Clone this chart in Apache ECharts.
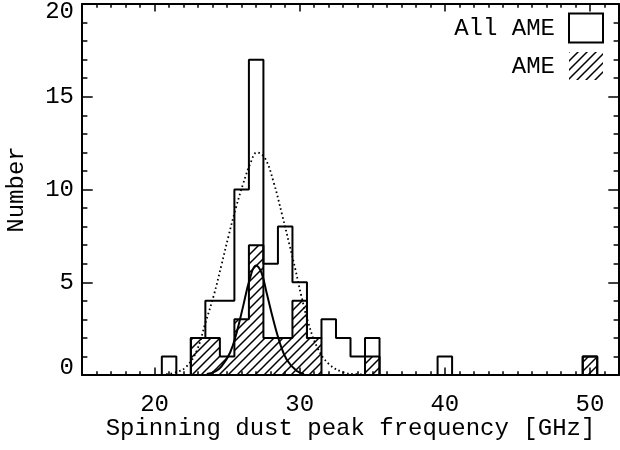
<!DOCTYPE html>
<html>
<head>
<meta charset="utf-8">
<script src="https://cdn.jsdelivr.net/npm/echarts@6/dist/echarts.min.js"></script>
<style>html,body{margin:0;padding:0;background:#fff}#c{width:620px;height:450px}</style>
</head>
<body>
<div id="c"></div>
<script>
// ---- data ----
const binCenters = [21,22,23,24,25,26,27,28,29,30,31,32,33,34,35,36,37,38,39,40,41,42,43,44,45,46,47,48,49,50];
const allAME     = [1, 0, 2, 4, 4, 10,17,6, 8, 5, 2, 3, 2, 1, 2, 0, 0, 0, 0, 1, 0, 0, 0, 0, 0, 0, 0, 0, 0, 1];
const ameCounts  = [0, 0, 2, 2, 1, 3, 7, 2, 2, 4, 2, 0, 0, 0, 1, 0, 0, 0, 0, 0, 0, 0, 0, 0, 0, 0, 0, 0, 0, 1];
const seriesNames = ['All AME', 'AME'];
// fitted curves, points
const fitAllX = [20.8,21.5,22.2,22.9,23.5,24.1,24.6,25.1,25.6,26.1,26.6,27.05,27.6,28.2,28.8,29.3,29.7,30.1,30.6,31.2,32.0,33.0,34.0,35.0];
const fitAllY = [0.05,0.15,0.45,1.3,2.8,4.35,5.9,7.5,9.0,10.3,11.4,12.0,11.7,10.4,8.6,7.0,5.7,4.3,2.8,1.5,0.6,0.15,0.04,0.01];
const fitAmeX = [23.6,24.2,24.6,25.2,25.65,26.1,26.55,26.98,27.37,27.72,28.17,28.63,29.1,29.8,30.3];
const fitAmeY = [0.05,0.2,0.45,1.2,2.27,3.7,5.15,5.9,5.5,4.43,3.0,1.74,0.84,0.21,0.05];
const xMajorTicks = [20,30,40,50];
const yMajorTicks = [0,5,10,15,20];
const xTitle = 'Spinning dust peak frequency [GHz]';
const yTitle = 'Number';

// ---- helpers ----
function stepPoints(centers, counts){
  const pts = [[centers[0]-0.5, 0]];
  centers.forEach((c,i)=>{ pts.push([c-0.5, counts[i]]); pts.push([c+0.5, counts[i]]); });
  pts.push([centers[centers.length-1]+0.5, 0]);
  return pts;
}
function zip(xs, ys){ return xs.map((x,i)=>[x, ys[i]]); }
function hatchCanvas(){
  const s = 9;
  const c = document.createElement('canvas'); c.width = s; c.height = s;
  const g = c.getContext('2d');
  g.strokeStyle = '#000'; g.lineWidth = 1.5;
  g.beginPath();
  g.moveTo(-1, s+1); g.lineTo(s+1, -1);
  g.moveTo(-1, 1); g.lineTo(1, -1);
  g.moveTo(s-1, s+1); g.lineTo(s+1, s-1);
  g.stroke();
  return c;
}
const hatch = {image: hatchCanvas(), repeat: 'repeat'};

const FONT = 'Liberation Mono';
const FS = 24;
const xMin = 15, xMax = 52;

const chart = echarts.init(document.getElementById('c'), null, {renderer:'canvas'});
const axisLine = {show:true, lineStyle:{color:'#000', width:2}};
const noLine = {show:false};

const option = {
  animation: false,
  backgroundColor: '#fff',
  grid: {left: 82, right: 1, top: 4, bottom: 75, containLabel: false, outerBoundsMode: 'none'},
  xAxis: [
    { // bottom minor ticks + axis line + title
      type:'value', position:'bottom', min:xMin, max:xMax, interval:1,
      axisLine: axisLine,
      axisTick: {show:true, inside:true, length:3.7, lineStyle:{color:'#000', width:1.5}},
      axisLabel: {show:false}, splitLine:{show:false},
      name: xTitle, nameLocation:'middle', nameGap: 42,
      nameTextStyle: {fontFamily: FONT, fontSize: FS, color:'#000'}
    },
    { // bottom major ticks + labels
      type:'value', position:'bottom', min:xMin, max:xMax,
      axisLine: noLine,
      axisTick: {show:true, inside:true, length:7.5, customValues: xMajorTicks, lineStyle:{color:'#000', width:1.5}},
      axisLabel: {show:true, customValues: xMajorTicks, margin: 18, fontFamily: FONT, fontSize: FS, color:'#000'},
      splitLine:{show:false}
    },
    { // top minor ticks + axis line
      type:'value', position:'top', min:xMin, max:xMax, interval:1,
      axisLine: axisLine,
      axisTick: {show:true, inside:true, length:3.7, lineStyle:{color:'#000', width:1.5}},
      axisLabel: {show:false}, splitLine:{show:false}
    },
    { // top major ticks
      type:'value', position:'top', min:xMin, max:xMax,
      axisLine: noLine,
      axisTick: {show:true, inside:true, length:7.5, customValues: xMajorTicks, lineStyle:{color:'#000', width:1.5}},
      axisLabel: {show:false}, splitLine:{show:false}
    }
  ],
  yAxis: [
    {
      type:'value', position:'left', min:0, max:20, interval:5,
      axisLine: axisLine,
      axisTick: {show:true, inside:true, length:10.7, lineStyle:{color:'#000', width:1.5}},
      minorTick: {show:true, splitNumber:5, length:5.4, lineStyle:{color:'#000', width:1.5}},
      axisLabel: {show:true, margin: 8, fontFamily: FONT, fontSize: FS, color:'#000', lineHeight: 15,
                  verticalAlignMinLabel:'bottom', verticalAlignMaxLabel:'top'},
      splitLine:{show:false}, minorSplitLine:{show:false},
      name: yTitle, nameLocation:'middle', nameGap: 53, nameRotate: 90,
      nameTextStyle: {fontFamily: FONT, fontSize: FS, color:'#000'}
    },
    {
      type:'value', position:'right', min:0, max:20, interval:5,
      axisLine: axisLine,
      axisTick: {show:true, inside:true, length:10.7, lineStyle:{color:'#000', width:1.5}},
      minorTick: {show:true, splitNumber:5, length:5.4, lineStyle:{color:'#000', width:1.5}},
      axisLabel: {show:false}, splitLine:{show:false}, minorSplitLine:{show:false}
    }
  ],
  series: [
    {
      name: seriesNames[1], type:'line', xAxisIndex:0, yAxisIndex:0,
      data: stepPoints(binCenters, ameCounts), showSymbol:false, symbol:'none',
      lineStyle:{color:'#000', width:2}, areaStyle:{color: hatch, opacity:1}, z:2
    },
    {
      name: seriesNames[0], type:'line', xAxisIndex:0, yAxisIndex:0,
      data: stepPoints(binCenters, allAME), showSymbol:false, symbol:'none',
      lineStyle:{color:'#000', width:2}, z:3
    },
    {
      name: seriesNames[0] + ' fit', type:'line', xAxisIndex:0, yAxisIndex:0,
      data: zip(fitAllX, fitAllY), showSymbol:false, symbol:'none', smooth:0.4,
      lineStyle:{color:'#000', width:1.8, type:[1.6,2.8]}, z:4
    },
    {
      name: seriesNames[1] + ' fit', type:'line', xAxisIndex:0, yAxisIndex:0,
      data: zip(fitAmeX, fitAmeY), showSymbol:false, symbol:'none', smooth:0.4,
      lineStyle:{color:'#000', width:2}, z:4
    }
  ],
  graphic: [
    {type:'text', right: 620-555, top: 17, style:{text: seriesNames[0], font: FS+'px "'+FONT+'"', fill:'#000'}},
    {type:'rect', shape:{x:569, y:13.5, width:34, height:29}, style:{fill:'none', stroke:'#000', lineWidth:2}},
    {type:'text', right: 620-555, top: 55, style:{text: seriesNames[1], font: FS+'px "'+FONT+'"', fill:'#000'}},
    {type:'rect', shape:{x:569, y:52, width:34, height:28}, style:{fill: hatch, stroke:null}}
  ]
};
chart.setOption(option);
</script>
</body>
</html>
